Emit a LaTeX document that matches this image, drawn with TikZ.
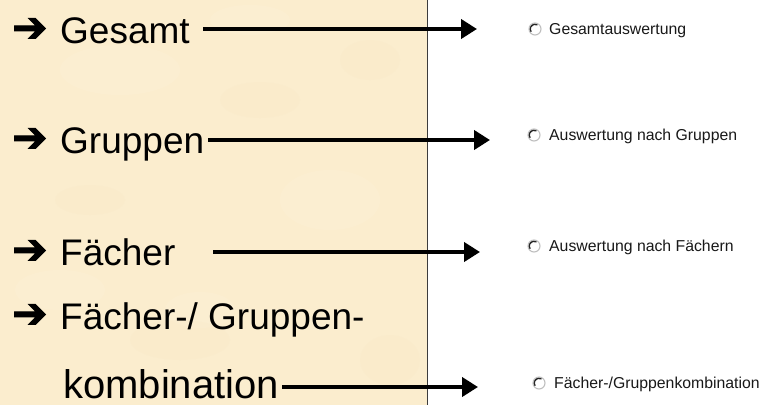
\documentclass[tikz,border=0pt]{standalone}
\usepackage{fontspec}
\setmainfont{Liberation Sans}
\newfontfamily\dvfont[FakeBold=2.5]{DejaVu Sans}
\usetikzlibrary{arrows.meta}
\definecolor{parch}{RGB}{251,237,206}
\definecolor{parchlight}{RGB}{254,243,220}
\definecolor{parchdark}{RGB}{248,232,198}
\definecolor{vline}{RGB}{60,60,60}
\begin{document}
\begin{tikzpicture}[x=1pt,y=-1pt,
  big/.style={font=\fontsize{37}{40}\selectfont, inner sep=0pt, anchor=base west},
  bul/.style={font=\dvfont\fontsize{42}{42}\selectfont, inner sep=0pt, anchor=west},
  conn/.style={line width=4pt, -{Triangle[length=16pt,width=19pt]}},
  opt/.style={font=\fontsize{15.8}{18}\selectfont, inner sep=0pt, anchor=base west, text=black!90},
  radio/.style={circle, draw=gray!50, fill=white, line width=1.1pt, minimum size=12pt, inner sep=0pt,
    path picture={\draw[line width=1.7pt, black!85] (path picture bounding box.center) ++(60:5pt) arc (60:215:5pt);}},
  blot/.style={opacity=0.25}]
\useasboundingbox (0,0) rectangle (767,405);
% background
\fill[parch] (0,0) rectangle (427,405);
\fill[white] (427,0) rectangle (767,405);
\begin{scope}[blot]
\fill[parchlight] (120,70) ellipse (60 and 25);
\fill[parchlight] (330,200) ellipse (50 and 30);
\fill[parchlight] (60,290) ellipse (45 and 20);
\fill[parchlight] (250,20) ellipse (40 and 15);
\fill[parchlight] (200,310) ellipse (35 and 18);
\fill[parchdark] (260,100) ellipse (40 and 18);
\fill[parchdark] (180,340) ellipse (50 and 20);
\fill[parchdark] (390,360) ellipse (30 and 25);
\fill[parchdark] (90,200) ellipse (35 and 15);
\fill[parchdark] (370,60) ellipse (30 and 20);
\end{scope}
\draw[vline, line width=1pt] (427,0) -- (427,405);
% left labels
\node[bul] (b1) at (12,30) {➔};
\node[big] (l1) at (60,43) {Gesamt};
\node[bul] (b2) at (12,140) {➔};
\node[big] (l2) at (60,153) {Gruppen};
\node[bul] (b3) at (12,252) {➔};
\node[big] (l3) at (60,265) {Fächer};
\node[bul] (b4) at (12,316) {➔};
\node[big] (l4) at (60,329) {Fächer-/ Gruppen-};
\node[big, font=\fontsize{40}{42}\selectfont] (l5) at (63,398) {kombination};
% right options
\node[radio] (r1) at (535,29) {};
\node[opt] (o1) at (549,34.5) {Gesamtauswertung};
\node[radio] (r2) at (534,135) {};
\node[opt] (o2) at (549,140.5) {Auswertung nach Gruppen};
\node[radio] (r3) at (534,246) {};
\node[opt] (o3) at (549,251.5) {Auswertung nach Fächern};
\node[radio] (r4) at (539,383) {};
\node[opt] (o4) at (554,388.5) {Fächer-/Gruppenkombination};
% connectors
\coordinate (s1) at (203,29);  \coordinate (e1) at (477,29);
\coordinate (s2) at (208,140); \coordinate (e2) at (490,140);
\coordinate (s3) at (213,252); \coordinate (e3) at (480,252);
\coordinate (s4) at (282,387); \coordinate (e4) at (478,387);
\draw[conn] (s1) -- (e1);
\draw[conn] (s2) -- (e2);
\draw[conn] (s3) -- (e3);
\draw[conn] (s4) -- (e4);
\end{tikzpicture}
\end{document}
